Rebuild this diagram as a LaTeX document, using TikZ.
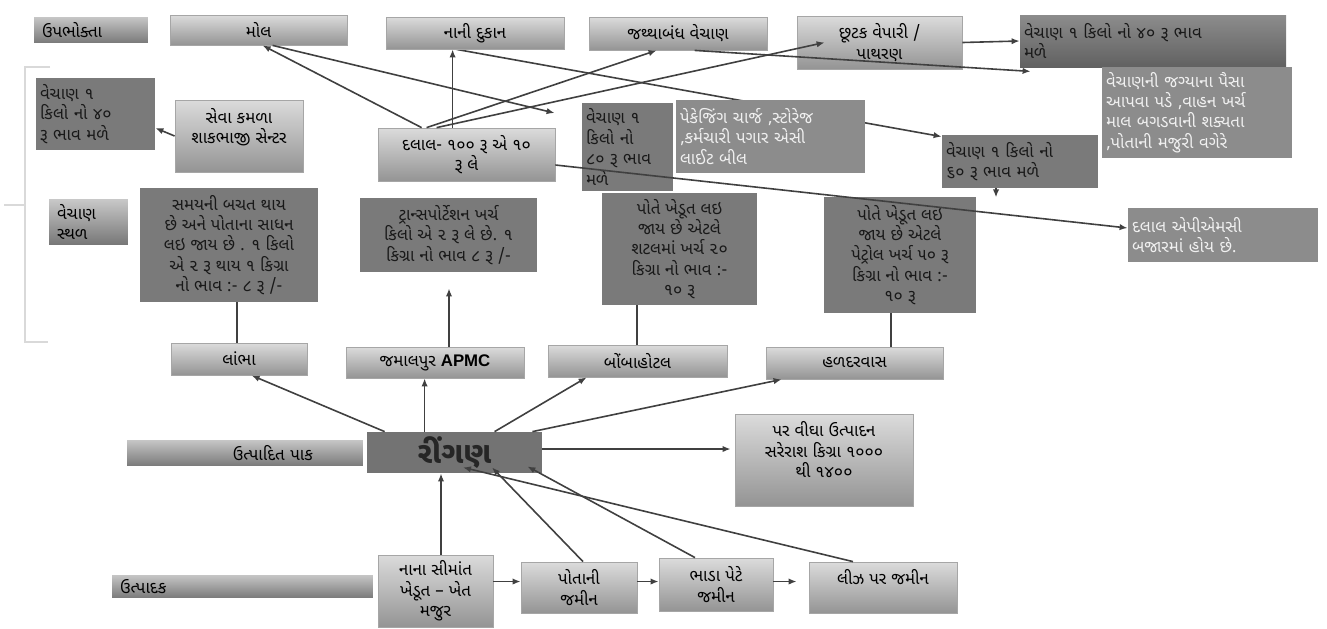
\documentclass[tikz,border=0pt]{standalone}
\usepackage{fontspec}
\newfontfamily\guj[Script=Gujarati]{Noto Sans Gujarati UI}
\newfontfamily\lat{Liberation Sans}
\usetikzlibrary{positioning,backgrounds,arrows.meta}
\newcommand\lift{\\\mbox{}}

\begin{document}
\begin{tikzpicture}[x = 0.5pt, y = -0.5pt, >= {Latex[length=4pt,width=3.2pt]},
    every node/.style = { align = center, inner sep = 2pt, font = \guj\fontsize{8.4}{10.2}\selectfont },
    lightbox/.style = { draw = black!35, top color = black!14, bottom color = black!42 },
    headbox/.style = { draw = black!12, double = white, double distance = 1.6pt, inner xsep = 5pt,
                       top color = black!20, bottom color = black!55, align = left },
    darkbox/.style = { fill = black!52, text = black!90 },
    greybox/.style = { fill = black!45, text = black!6, align = left },
    link/.style = { draw = black!75, line width = .8pt } ]

  \useasboundingbox (0,0) rectangle (1327,628);

  % bracket round the left column
  \draw[black!15, line width = .8pt] (50,67) -- (25,67) -- (25,342) -- (48,342);
  \draw[black!15, line width = .8pt] (4,205) -- (25,205);

  % consumers
  \node[headbox, text width = 49pt, minimum height = 15pt] (consumer) at (91,30) {ઉપભોક્તા};
  \node[lightbox, minimum width = 88.5pt, minimum height = 15pt] (mall) at (258.5,30) {મોલ};
  \node[lightbox, minimum width = 89pt, minimum height = 16pt] (shop) at (475,33) {નાની દુકાન};
  \node[lightbox, minimum width = 89pt, minimum height = 16.5pt] (wholesale) at (678,33.5) {જથ્થાબંધ વેચાણ};
  \node[lightbox, minimum width = 82.5pt, minimum height = 26.5pt] (retail) at (879.5,42.5) {છૂટક વેપારી /\\પાથરણ};
  \node[darkbox, top color = black!45, bottom color = black!62, align = left, text width = 129pt,
        minimum height = 26pt] (saletop) at (1153,41) {વેચાણ ૧ કિલો નો ૪૦  રૂ ભાવ\\મળે};
  \node[greybox, text width = 91pt, minimum height = 45.5pt] (sellcosts) at (1197,112.5)
        {વેચાણની જગ્યાના પૈસા\\આપવા પડે ,વાહન ખર્ચ\\માલ બગડવાની શક્યતા\\,પોતાની મજુરી  વગેરે};

  % selling points
  \node[darkbox, align = left, text width = 55.5pt, minimum height = 36pt] (saleleft) at (95.5,114)
        {વેચાણ ૧\\કિલો નો ૪૦\\રૂ ભાવ  મળે};
  \node[lightbox, minimum width = 64pt, minimum height = 36pt] (seva) at (239,136) {સેવા  કમળા\\શાકભાજી સેન્ટર\lift};
  \node[lightbox, minimum width = 88.5pt, minimum height = 26.5pt] (broker) at (466.5,154.5) {દલાલ- ૧૦૦ રૂ એ ૧૦\\રૂ લે};
  \node[darkbox, align = left, text width = 41.5pt, minimum height = 44pt] (saleeighty) at (627.5,147)
        {વેચાણ ૧\\કિલો નો\\૮૦ રૂ ભાવ\\મળે};
  \node[greybox, text width = 90.5pt, minimum height = 36.5pt] (packing) at (770.5,136.5)
        {પેકેજિંગ ચાર્જ ,સ્ટોરેજ\\,કર્મચારી પગાર એસી\\લાઈટ બીલ};
  \node[darkbox, align = left, text width = 74pt, minimum height = 26.5pt] (salesixty) at (1020,161.5)
        {વેચાણ ૧ કિલો નો\\૬૦  રૂ ભાવ  મળે};
  \node[headbox, text width = 31.5pt, minimum height = 25pt] (place) at (88.5,222) {વેચાણ\\સ્થળ};
  \node[darkbox, minimum width = 89pt, minimum height = 57pt] (selfcarry) at (229,245)
        {સમયની બચત થાય\\છે અને પોતાના સાધન\\લઇ જાય છે . ૧ કિલો\\એ ૨ રૂ થાય ૧ કિગ્રા\\નો ભાવ :- ૮  રૂ /-};
  \node[darkbox, minimum width = 88.5pt, minimum height = 37pt] (transport) at (448.5,235)
        {ટ્રાન્સપોર્ટેશન ખર્ચ\\કિલો એ ૨ રૂ લે છે. ૧\\કિગ્રા નો ભાવ ૮  રૂ /-};
  \node[darkbox, minimum width = 77.5pt, minimum height = 56pt] (shuttle) at (679.5,249)
        {પોતે ખેડૂત લઇ\\જાય છે એટલે\\શટલમાં  ખર્ચ ૨૦\\કિગ્રા નો ભાવ :-\\૧૦ રૂ};
  \node[darkbox, minimum width = 76pt, minimum height = 58pt] (petrol) at (900,255)
        {પોતે ખેડૂત લઇ\\જાય છે એટલે\\પેટ્રોલ ખર્ચ ૫૦ રૂ\\કિગ્રા નો ભાવ :-\\૧૦ રૂ};
  \node[greybox, text width = 91pt, minimum height = 27pt] (apmcbroker) at (1223,235) {દલાલ એપીએમસી\\બજારમાં હોય છે.};

  \node[lightbox, minimum width = 68pt, minimum height = 16pt] (lambha) at (239,359) {લાંભા};
  \node[lightbox, minimum width = 89pt, minimum height = 15.5pt] (jamalpur) at (435,362.5) {જમાલપુર {\lat\bfseries APMC}};
  \node[lightbox, minimum width = 89.5pt, minimum height = 16pt] (bombay) at (637.5,361) {બોંબાહોટલ};
  \node[lightbox, minimum width = 88.5pt, minimum height = 16pt] (haldarvas) at (854.5,363) {હળદરવાસ};

  % crop and producers
  \node[headbox, align = center, text width = 110pt, minimum height = 15pt] (crop) at (245,453) {\hspace*{28pt}ઉત્પાદિત પાક};
  \node[darkbox, fill = black!55, text = black!85, minimum width = 87.5pt, minimum height = 20.5pt,
        font = \guj\bfseries\fontsize{15}{17}\selectfont] (brinjal) at (454.5,452.5) {રીંગણ};
  \node[lightbox, minimum width = 89pt, minimum height = 46pt] (yield) at (824,460)
        {પર વીઘા ઉત્પાદન\\સરેરાશ કિગ્રા ૧૦૦૦\\થી ૧૪૦૦\lift};
  \node[headbox, text width = 122.5pt, minimum height = 13.5pt] (producer) at (242.5,586.5) {ઉત્પાદક};
  \node[lightbox, minimum width = 57.5pt, minimum height = 36pt] (farmer) at (435.5,591) {નાના સીમાંત\\ખેડૂત – ખેત\\મજુર};
  \node[lightbox, minimum width = 58pt, minimum height = 25.5pt] (ownland) at (579,587.5) {પોતાની\\જમીન};
  \node[lightbox, minimum width = 57pt, minimum height = 26.5pt] (rentland) at (716,584.5) {ભાડા પેટે\\જમીન};
  \node[lightbox, minimum width = 74pt, minimum height = 25.5pt] (leaseland) at (883,587.5) {લીઝ પર જમીન\lift};

  % connectors
  \begin{scope}[on background layer]
    \draw[link, ->] ([xshift = 35.5pt]shop.south west) -- ([yshift = -1pt]salesixty.north west);
  \end{scope}
  \draw[link, ->] ([xshift = 22pt]broker.north west) -- ([xshift = 46.5pt]mall.south west);
  \draw[link, ->] ([xshift = 51.5pt]mall.south west) -- ([xshift = -13.5pt, yshift = 17pt]saleeighty.west);
  \draw[link, ->] ([xshift = 37.5pt]broker.north west) -- ([xshift = 37.5pt]broker.north west |- shop.south);
  \draw[link, ->] ([xshift = 24.5pt]broker.north west) -- ([xshift = 34pt]wholesale.south west);
  \draw[link, ->] ([xshift = 29.5pt]broker.north west) -- ([xshift = 14pt]retail.west);
  \draw[link, ->] ([xshift = 53pt]wholesale.south west) -- ([xshift = 5.5pt, yshift = -2pt]saletop.south west);
  \draw[link, ->] (retail.east) -- (saletop.west);
  \draw[link, ->] ([yshift = -5.25pt]broker.east) -- ([yshift = 3.5pt]apmcbroker.west);
  \draw[link, ->] (seva.west) -- ([yshift = -7pt]saleleft.east);
  \draw[link] ([xshift = 4pt]selfcarry.south) -- ([xshift = 4pt]selfcarry.south |- lambha.north);
  \draw[link, ->] ([xshift = 7pt]jamalpur.north) -- ([xshift = 7pt, yshift = -8pt]jamalpur.north |- transport.south);
  \draw[link] ([xshift = -21.25pt]shuttle.south) -- ([xshift = -21.25pt]shuttle.south |- bombay.north);
  \draw[link] ([xshift = -4.5pt]petrol.south) -- ([xshift = -4.5pt]petrol.south |- haldarvas.north);
  \draw[link, ->] ([xshift = -12pt]salesixty.south) -- ++(0,9);

  \draw[link, ->] ([xshift = 9pt]brinjal.north west) -- ([xshift = 40.5pt]lambha.south west);
  \draw[link, ->] ([xshift = 29pt]brinjal.north west) -- ([xshift = 29pt]brinjal.north west |- jamalpur.south);
  \draw[link, ->] ([xshift = 64pt]brinjal.north west) -- ([xshift = 19.5pt]bombay.south west);
  \draw[link, ->] ([xshift = -5pt]brinjal.north east) -- ([xshift = 8pt]haldarvas.south west);
  \draw[link, ->] ([yshift = 1.75pt]brinjal.east) -- ([xshift = -2pt, yshift = 1.75pt]brinjal.east -| yield.west);

  \draw[link, ->] ([xshift = 2.75pt]farmer.north) -- ([xshift = 2.75pt]farmer.north |- brinjal.south);
  \draw[link, ->] ([xshift = 2pt]ownland.north) -- ([xshift = 18.75pt, yshift = 3pt]brinjal.south);
  \draw[link, ->] ([xshift = -10.5pt]rentland.north) -- ([xshift = -7.5pt, yshift = 3.5pt]brinjal.south east);
  \draw[link, ->] ([xshift = -15pt]leaseland.north) -- ([xshift = 4.25pt, yshift = 3pt]brinjal.south);
  \draw[link, ->] ([yshift = 3pt]ownland.west -| farmer.east) -- ([yshift = 3pt]ownland.west);
  \draw[link, ->] ([yshift = 3pt]ownland.east) -- ([yshift = 3pt]ownland.east -| rentland.west);
  \draw[link, ->, shorten > = 6pt] ([yshift = 1.5pt]rentland.east) -- ([yshift = 1.5pt]rentland.east -| leaseland.west);

\end{tikzpicture}
\end{document}
